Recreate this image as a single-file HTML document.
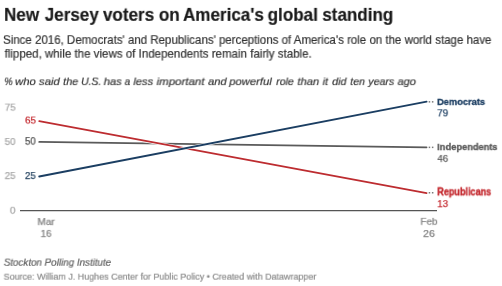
<!DOCTYPE html>
<html><head><meta charset="utf-8">
<style>
html,body{margin:0;padding:0;background:#fff;}
body{width:502px;height:286px;overflow:hidden;position:relative;font-family:"Liberation Sans",sans-serif;}
.t{position:absolute;white-space:nowrap;line-height:1;transform-origin:0 0;will-change:transform;}
svg{position:absolute;left:0;top:0;}
</style></head><body>
<svg width="502" height="286">
<line x1="20" y1="210.6" x2="437" y2="210.6" stroke="#555" stroke-width="1.2"/>
<g stroke-linecap="round">
<line x1="39.2" y1="141.9" x2="426.6" y2="147.3" stroke="#fff" stroke-width="3.2"/>
<line x1="39.2" y1="141.9" x2="426.6" y2="147.3" stroke="#5a5a5a" stroke-width="1.7"/>
<line x1="39.2" y1="121.2" x2="426.6" y2="193.2" stroke="#fff" stroke-width="3.2"/>
<line x1="39.2" y1="121.2" x2="426.6" y2="193.2" stroke="#bd2c30" stroke-width="1.7"/>
<line x1="39.2" y1="176.5" x2="426.6" y2="101.7" stroke="#fff" stroke-width="3.2"/>
<line x1="39.2" y1="176.5" x2="426.6" y2="101.7" stroke="#1b3e62" stroke-width="1.8"/>
</g>
<g fill="#7a7a7a">
<rect x="428.7" y="101.1" width="1.5" height="1.5"/><rect x="431.9" y="101.1" width="1.5" height="1.5"/>
<rect x="428.7" y="146.6" width="1.5" height="1.5"/><rect x="431.9" y="146.6" width="1.5" height="1.5"/>
<rect x="428.7" y="192" width="1.5" height="1.5"/><rect x="431.9" y="192" width="1.5" height="1.5"/>
</g>
</svg>

<div class="t" style="left:4px;top:6px;font-size:18.16px;font-weight:bold;font-style:normal;color:#1a1a1a;-webkit-text-stroke:0.2px #1a1a1a;transform:translate(0.034px,-0.177px) scale(0.9385,1.0000)">New</div>
<div class="t" style="left:44px;top:6px;font-size:18.16px;font-weight:bold;font-style:normal;color:#1a1a1a;-webkit-text-stroke:0.2px #1a1a1a;transform:translate(0.755px,-0.177px) scale(0.9385,1.0000)">Jersey</div>
<div class="t" style="left:102px;top:6px;font-size:18.16px;font-weight:bold;font-style:normal;color:#1a1a1a;-webkit-text-stroke:0.2px #1a1a1a;transform:translate(0.958px,-0.177px) scale(0.9385,1.0000)">voters</div>
<div class="t" style="left:158px;top:6px;font-size:18.16px;font-weight:bold;font-style:normal;color:#1a1a1a;-webkit-text-stroke:0.2px #1a1a1a;transform:translate(0.909px,-0.177px) scale(0.9385,1.0000)">on</div>
<div class="t" style="left:183px;top:6px;font-size:18.16px;font-weight:bold;font-style:normal;color:#1a1a1a;-webkit-text-stroke:0.2px #1a1a1a;transform:translate(0.030px,-0.177px) scale(0.9385,1.0000)">America's</div>
<div class="t" style="left:267px;top:6px;font-size:18.16px;font-weight:bold;font-style:normal;color:#1a1a1a;-webkit-text-stroke:0.2px #1a1a1a;transform:translate(0.649px,-0.177px) scale(0.9385,1.0000)">global</div>
<div class="t" style="left:322px;top:6px;font-size:18.16px;font-weight:bold;font-style:normal;color:#1a1a1a;-webkit-text-stroke:0.2px #1a1a1a;transform:translate(0.270px,-0.177px) scale(0.9385,1.0000)">standing</div>
<div class="t" style="left:3px;top:35px;font-size:11.85px;font-weight:normal;font-style:normal;color:#333333;-webkit-text-stroke:0.2px #333333;transform:translate(0.039px,0.221px) scale(0.9706,0.9550)">Since 2016, Democrats' and Republicans' perceptions of America's role on the world stage have</div>
<div class="t" style="left:4px;top:49px;font-size:11.85px;font-weight:normal;font-style:normal;color:#333333;-webkit-text-stroke:0.2px #333333;transform:translate(0.547px,0.071px) scale(0.9740,0.9550)">flipped, while the views of Independents remain fairly stable.</div>
<div class="t" style="left:4px;top:77px;font-size:11.34px;font-weight:normal;font-style:italic;color:#333333;-webkit-text-stroke:0.2px #333333;transform:translate(0.314px,-0.419px) scale(0.8255,0.9500)">%</div>
<div class="t" style="left:15px;top:77px;font-size:11.34px;font-weight:normal;font-style:italic;color:#333333;-webkit-text-stroke:0.2px #333333;transform:translate(0.063px,-0.419px) scale(0.9940,0.9500)">who</div>
<div class="t" style="left:38px;top:77px;font-size:11.34px;font-weight:normal;font-style:italic;color:#333333;-webkit-text-stroke:0.2px #333333;transform:translate(0.881px,-0.419px) scale(1.0071,0.9500)">said</div>
<div class="t" style="left:63px;top:77px;font-size:11.34px;font-weight:normal;font-style:italic;color:#333333;-webkit-text-stroke:0.2px #333333;transform:translate(0.104px,-0.419px) scale(0.9556,0.9500)">the</div>
<div class="t" style="left:81px;top:77px;font-size:11.34px;font-weight:normal;font-style:italic;color:#333333;-webkit-text-stroke:0.2px #333333;transform:translate(0.153px,-0.419px) scale(0.9123,0.9500)">U.S.</div>
<div class="t" style="left:103px;top:77px;font-size:11.34px;font-weight:normal;font-style:italic;color:#333333;-webkit-text-stroke:0.2px #333333;transform:translate(0.679px,-0.419px) scale(0.9917,0.9500)">has</div>
<div class="t" style="left:124px;top:77px;font-size:11.34px;font-weight:normal;font-style:italic;color:#333333;-webkit-text-stroke:0.2px #333333;transform:translate(0.595px,-0.419px) scale(0.8811,0.9500)">a</div>
<div class="t" style="left:133px;top:77px;font-size:11.34px;font-weight:normal;font-style:italic;color:#333333;-webkit-text-stroke:0.2px #333333;transform:translate(0.374px,-0.419px) scale(0.9831,0.9500)">less</div>
<div class="t" style="left:156px;top:77px;font-size:11.34px;font-weight:normal;font-style:italic;color:#333333;-webkit-text-stroke:0.2px #333333;transform:translate(0.553px,-0.419px) scale(1.0133,0.9500)">important</div>
<div class="t" style="left:208px;top:77px;font-size:11.34px;font-weight:normal;font-style:italic;color:#333333;-webkit-text-stroke:0.2px #333333;transform:translate(0.048px,-0.419px) scale(0.9836,0.9500)">and</div>
<div class="t" style="left:229px;top:77px;font-size:11.34px;font-weight:normal;font-style:italic;color:#333333;-webkit-text-stroke:0.2px #333333;transform:translate(0.311px,-0.419px) scale(0.9933,0.9500)">powerful</div>
<div class="t" style="left:276px;top:77px;font-size:11.34px;font-weight:normal;font-style:italic;color:#333333;-webkit-text-stroke:0.2px #333333;transform:translate(0.180px,-0.419px) scale(0.9365,0.9500)">role</div>
<div class="t" style="left:297px;top:77px;font-size:11.34px;font-weight:normal;font-style:italic;color:#333333;-webkit-text-stroke:0.2px #333333;transform:translate(0.391px,-0.419px) scale(0.9881,0.9500)">than</div>
<div class="t" style="left:322px;top:77px;font-size:11.34px;font-weight:normal;font-style:italic;color:#333333;-webkit-text-stroke:0.2px #333333;transform:translate(0.579px,-0.419px) scale(0.9648,0.9500)">it</div>
<div class="t" style="left:332px;top:77px;font-size:11.34px;font-weight:normal;font-style:italic;color:#333333;-webkit-text-stroke:0.2px #333333;transform:translate(0.063px,-0.419px) scale(0.9541,0.9500)">did</div>
<div class="t" style="left:350px;top:77px;font-size:11.34px;font-weight:normal;font-style:italic;color:#333333;-webkit-text-stroke:0.2px #333333;transform:translate(0.227px,-0.419px) scale(0.9306,0.9500)">ten</div>
<div class="t" style="left:368px;top:77px;font-size:11.34px;font-weight:normal;font-style:italic;color:#333333;-webkit-text-stroke:0.2px #333333;transform:translate(0.306px,-0.419px) scale(0.9362,0.9500)">years</div>
<div class="t" style="left:397px;top:77px;font-size:11.34px;font-weight:normal;font-style:italic;color:#333333;-webkit-text-stroke:0.2px #333333;transform:translate(0.542px,-0.419px) scale(0.9788,0.9500)">ago</div>
<div class="t" style="left:4px;top:104px;font-size:10.00px;font-weight:normal;font-style:normal;color:#a6a6a6;-webkit-text-stroke:0.25px #a6a6a6;transform:translate(0.762px,-0.416px) scale(0.9836,0.8700)">75</div>
<div class="t" style="left:4px;top:138px;font-size:10.00px;font-weight:normal;font-style:normal;color:#a6a6a6;-webkit-text-stroke:0.25px #a6a6a6;transform:translate(0.659px,-0.066px) scale(0.9793,0.8700)">50</div>
<div class="t" style="left:4px;top:172px;font-size:10.00px;font-weight:normal;font-style:normal;color:#a6a6a6;-webkit-text-stroke:0.25px #a6a6a6;transform:translate(0.663px,-0.066px) scale(0.9814,0.8700)">25</div>
<div class="t" style="left:9px;top:207px;font-size:10.00px;font-weight:normal;font-style:normal;color:#a6a6a6;-webkit-text-stroke:0.25px #a6a6a6;transform:translate(0.865px,-0.266px) scale(1.0136,0.8700)">0</div>
<div class="t" style="left:25px;top:117px;font-size:10.00px;font-weight:normal;font-style:normal;color:#c42a30;-webkit-text-stroke:0.25px #c42a30;transform:translate(0.007px,-0.466px) scale(0.9870,0.8700)">65</div>
<div class="t" style="left:24px;top:137px;font-size:10.00px;font-weight:normal;font-style:normal;color:#4d4d4d;-webkit-text-stroke:0.25px #4d4d4d;transform:translate(0.947px,0.126px) scale(0.9672,0.9300)">50</div>
<div class="t" style="left:24px;top:172px;font-size:10.00px;font-weight:normal;font-style:normal;color:#22405e;-webkit-text-stroke:0.25px #22405e;transform:translate(0.927px,-0.066px) scale(0.9727,0.8700)">25</div>
<div class="t" style="left:437px;top:97px;font-size:9.81px;font-weight:bold;font-style:normal;color:#1d3f63;-webkit-text-stroke:0.35px #1d3f63;transform:translate(0.095px,-0.107px) scale(0.9456,1.0000)">Democrats</div>
<div class="t" style="left:437px;top:109px;font-size:10.00px;font-weight:normal;font-style:normal;color:#1d3f63;-webkit-text-stroke:0.25px #1d3f63;transform:translate(0.249px,0.334px) scale(0.9889,0.8700)">79</div>
<div class="t" style="left:437px;top:142px;font-size:9.45px;font-weight:bold;font-style:normal;color:#5a5a5a;-webkit-text-stroke:0.35px #5a5a5a;transform:translate(0.222px,0.101px) scale(0.9825,1.0500)">Independents</div>
<div class="t" style="left:437px;top:155px;font-size:10.00px;font-weight:normal;font-style:normal;color:#5a5a5a;-webkit-text-stroke:0.25px #5a5a5a;transform:translate(0.430px,-0.166px) scale(0.9708,0.8700)">46</div>
<div class="t" style="left:437px;top:187px;font-size:9.59px;font-weight:bold;font-style:normal;color:#c42a30;-webkit-text-stroke:0.35px #c42a30;transform:translate(0.220px,0.372px) scale(0.9484,1.0500)">Republicans</div>
<div class="t" style="left:437px;top:200px;font-size:10.00px;font-weight:normal;font-style:normal;color:#c42a30;-webkit-text-stroke:0.25px #c42a30;transform:translate(0.234px,0.134px) scale(0.9879,0.8700)">13</div>
<div class="t" style="left:37px;top:218px;font-size:10.17px;font-weight:normal;font-style:normal;color:#808080;-webkit-text-stroke:0.25px #808080;transform:translate(0.480px,-0.009px) scale(0.9859,0.8600)">Mar</div>
<div class="t" style="left:40px;top:230px;font-size:10.00px;font-weight:normal;font-style:normal;color:#808080;-webkit-text-stroke:0.25px #808080;transform:translate(0.586px,-0.166px) scale(0.9905,0.8700)">16</div>
<div class="t" style="left:420px;top:218px;font-size:10.17px;font-weight:normal;font-style:normal;color:#808080;-webkit-text-stroke:0.25px #808080;transform:translate(0.480px,-0.209px) scale(0.9779,0.8600)">Feb</div>
<div class="t" style="left:423px;top:230px;font-size:10.00px;font-weight:normal;font-style:normal;color:#808080;-webkit-text-stroke:0.25px #808080;transform:translate(0.130px,-0.066px) scale(1.0500,0.8700)">26</div>
<div class="t" style="left:3px;top:259px;font-size:10.17px;font-weight:normal;font-style:italic;color:#606060;-webkit-text-stroke:0.2px #606060;transform:translate(0.801px,-0.453px) scale(0.9654,0.9000)">Stockton Polling Institute</div>
<div class="t" style="left:3px;top:272px;font-size:9.59px;font-weight:normal;font-style:normal;color:#8a8a8a;-webkit-text-stroke:0.2px #8a8a8a;transform:translate(0.599px,-0.322px) scale(0.9350,1.0000)">Source: William J. Hughes Center for Public Policy • Created with Datawrapper</div>
</body></html>
